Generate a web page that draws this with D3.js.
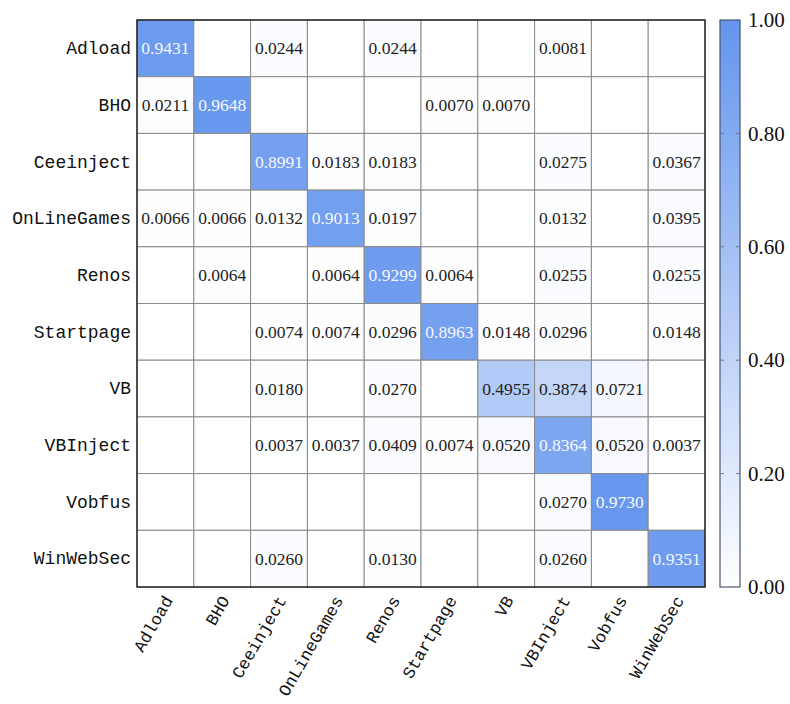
<!DOCTYPE html>
<html><head><meta charset="utf-8">
<script src="https://cdn.jsdelivr.net/npm/d3@7"></script>
<style>body{margin:0;background:#fff;}</style>
</head><body>
<script>
const categories = ["Adload","BHO","Ceeinject","OnLineGames","Renos","Startpage","VB","VBInject","Vobfus","WinWebSec"];
const rowAdload      = [0.9431, null, 0.0244, null, 0.0244, null, null, 0.0081, null, null];
const rowBHO         = [0.0211, 0.9648, null, null, null, 0.0070, 0.0070, null, null, null];
const rowCeeinject   = [null, null, 0.8991, 0.0183, 0.0183, null, null, 0.0275, null, 0.0367];
const rowOnLineGames = [0.0066, 0.0066, 0.0132, 0.9013, 0.0197, null, null, 0.0132, null, 0.0395];
const rowRenos       = [null, 0.0064, null, 0.0064, 0.9299, 0.0064, null, 0.0255, null, 0.0255];
const rowStartpage   = [null, null, 0.0074, 0.0074, 0.0296, 0.8963, 0.0148, 0.0296, null, 0.0148];
const rowVB          = [null, null, 0.0180, null, 0.0270, null, 0.4955, 0.3874, 0.0721, null];
const rowVBInject    = [null, null, 0.0037, 0.0037, 0.0409, 0.0074, 0.0520, 0.8364, 0.0520, 0.0037];
const rowVobfus      = [null, null, null, null, null, null, null, 0.0270, 0.9730, null];
const rowWinWebSec   = [null, null, 0.0260, null, 0.0130, null, null, 0.0260, null, 0.9351];
const colorbarTicks = [0, 0.2, 0.4, 0.6, 0.8, 1.0];

const matrix = [rowAdload,rowBHO,rowCeeinject,rowOnLineGames,rowRenos,rowStartpage,rowVB,rowVBInject,rowVobfus,rowWinWebSec];
const cells = [];
matrix.forEach((row,i)=>row.forEach((v,j)=>cells.push({r:categories[i],c:categories[j],v})));

const W=790,H=704;
const gx0=137, gx1=705, gy0=20, gy1=587;
const svg=d3.select("body").append("svg").attr("width",W).attr("height",H);

const x=d3.scaleBand().domain(categories).range([gx0,gx1]);
const y=d3.scaleBand().domain(categories).range([gy0,gy1]);
const color=d3.scaleLinear().domain([0,1]).range(["#ffffff","#6495ED"]);

const g=svg.append("g");
g.selectAll("rect.cell").data(cells).join("rect")
  .attr("class","cell")
  .attr("x",d=>x(d.c)).attr("y",d=>y(d.r))
  .attr("width",x.bandwidth()).attr("height",y.bandwidth())
  .attr("fill",d=>d.v==null?"#fff":color(d.v))
  .attr("stroke","#8a8a8a").attr("stroke-width",1);

g.selectAll("text.val").data(cells.filter(d=>d.v!=null)).join("text")
  .attr("class","val")
  .attr("x",d=>x(d.c)+x.bandwidth()/2).attr("y",d=>y(d.r)+y.bandwidth()/2)
  .attr("text-anchor","middle").attr("dominant-baseline","central")
  .attr("font-family","'Liberation Serif', serif").attr("font-size",17.5)
  .attr("fill",d=>d.v>0.6?"#f4f7ff":"#222")
  .text(d=>d.v.toFixed(4));

svg.append("rect").attr("x",gx0).attr("y",gy0).attr("width",gx1-gx0).attr("height",gy1-gy0)
  .attr("fill","none").attr("stroke","#111").attr("stroke-width",1.3);

// row labels
const yAxis=d3.axisLeft(y).tickSize(0).tickPadding(6);
const ya=svg.append("g").attr("transform",`translate(${gx0},0)`).call(yAxis);
ya.select(".domain").remove();
ya.selectAll("text").attr("font-family","'Liberation Mono', monospace").attr("font-size",18).attr("fill","#111");

// column labels
const xAxis=d3.axisBottom(x).tickSize(0).tickPadding(0);
const xa=svg.append("g").attr("transform",`translate(0,${gy1})`).call(xAxis);
xa.select(".domain").remove();
xa.selectAll("text")
  .attr("font-family","'Liberation Mono', monospace").attr("font-size",17).attr("fill","#111")
  .attr("text-anchor","end").attr("dy",null).attr("y",0)
  .attr("transform","translate(4,11) rotate(-60)")
  .attr("dominant-baseline","central");

// colorbar
const cbx=720, cbw=20;
const cy=d3.scaleLinear().domain([0,1]).range([gy1,gy0]);
const defs=svg.append("defs");
const grad=defs.append("linearGradient").attr("id","cb").attr("x1",0).attr("y1",1).attr("x2",0).attr("y2",0);
grad.append("stop").attr("offset","0%").attr("stop-color",color(0));
grad.append("stop").attr("offset","100%").attr("stop-color",color(1));
svg.append("rect").attr("x",cbx).attr("y",gy0).attr("width",cbw).attr("height",gy1-gy0)
  .attr("fill","url(#cb)").attr("stroke","#4a5570").attr("stroke-width",1.2);
const cbAxis=d3.axisRight(cy).tickValues(colorbarTicks).tickFormat(d3.format(".2f")).tickSize(0).tickPadding(8);
const ca=svg.append("g").attr("transform",`translate(${cbx+cbw},0)`).call(cbAxis);
ca.select(".domain").remove();
ca.selectAll("text").attr("font-family","'Liberation Serif', serif").attr("font-size",21).attr("fill","#111");
svg.selectAll("line.cbt").data(colorbarTicks.slice(1,-1)).join("line")
  .attr("x1",cbx).attr("x2",cbx+4).attr("y1",d=>cy(d)).attr("y2",d=>cy(d))
  .attr("stroke","#6a7690").attr("stroke-width",1);
svg.selectAll("line.cbt2").data(colorbarTicks.slice(1,-1)).join("line")
  .attr("x1",cbx+cbw-4).attr("x2",cbx+cbw).attr("y1",d=>cy(d)).attr("y2",d=>cy(d))
  .attr("stroke","#6a7690").attr("stroke-width",1);
</script>
</body></html>
